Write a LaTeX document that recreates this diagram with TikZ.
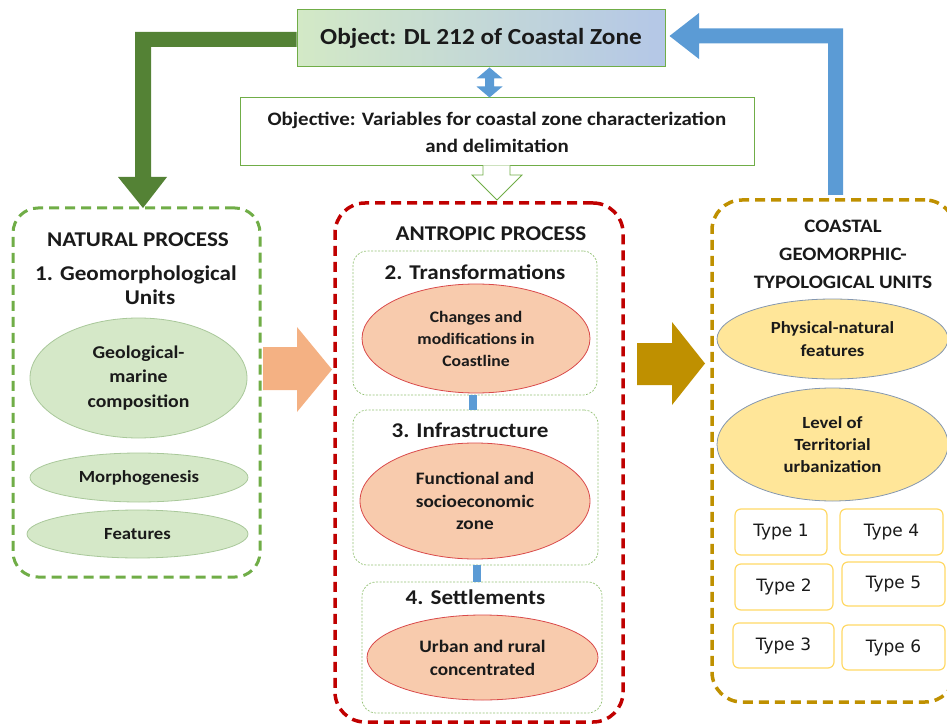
\documentclass[tikz,border=0pt]{standalone}
\usepackage{fontspec}
\setmainfont{Carlito}[FakeStretch=1.1]
\newfontfamily\typefont{DejaVu Sans}
\usetikzlibrary{shapes.geometric,calc}
\definecolor{dgreen}{HTML}{548235}
\definecolor{lgreen}{HTML}{70AD47}
\definecolor{ablue}{HTML}{5B9BD5}
\definecolor{bgreen}{HTML}{D3E9C6}
\definecolor{bblue}{HTML}{B4C7E7}
\definecolor{elgreen}{HTML}{D5E8C8}
\definecolor{elgreenb}{HTML}{A9C89A}
\definecolor{peach}{HTML}{F8CBAD}
\definecolor{peachb}{HTML}{D9494A}
\definecolor{orng}{HTML}{F4B183}
\definecolor{gold}{HTML}{BF9000}
\definecolor{lyel}{HTML}{FFE699}
\definecolor{lyelb}{HTML}{8497B0}
\definecolor{typeb}{HTML}{FFD966}
\definecolor{dred}{HTML}{C00000}
\definecolor{txt}{HTML}{1A1A1A}
\newcommand\fsz[2]{\fontsize{#1pt}{#2pt}\selectfont}
\tikzset{
  every node/.style={text=txt},
  container/.style={draw, line width=3pt, dash pattern=on 10pt off 6pt, rounded corners=25pt},
  innerbox/.style={draw=lgreen!75, line width=0.7pt, dash pattern=on 2pt off 1.5pt, rounded corners=14pt},
  ell/.style={ellipse, inner sep=0pt, align=center},
  greenell/.style={ell, fill=elgreen, draw=elgreenb, line width=0.8pt},
  peachell/.style={ell, fill=peach, draw=peachb, line width=0.8pt},
  yelell/.style={ell, fill=lyel, draw=lyelb, line width=0.8pt},
  typebox/.style={draw=typeb, line width=1.2pt, rounded corners=6pt, fill=white, font=\typefont\fsz{17}{20}},
  heading/.style={align=center, inner sep=0pt},
}
\begin{document}
\begin{tikzpicture}[x=1pt,y=-1pt]
\useasboundingbox (0,0) rectangle (947,727);
\clip (0,0) rectangle (947,727);

% top boxes
\node[draw=lgreen, line width=1pt, left color=bgreen, right color=bblue, minimum width=368pt, minimum height=57pt, font=\bfseries\fsz{23}{27}] (obj) at (481,38.5) {Object: DL 212 of Coastal Zone};
\node[draw=lgreen, line width=1pt, fill=white, minimum width=514pt, minimum height=68pt, align=center, font=\bfseries\fsz{19}{27}] (objv) at (497,132) {Objective: Variables for coastal zone characterization\\and delimitation};

% containers
\node[container, draw=lgreen, minimum width=247pt, minimum height=369pt] (left) at (136.5,392.5) {};
\node[container, draw=dred, line width=3.5pt, rounded corners=30pt, minimum width=288pt, minimum height=519pt] (mid) at (479,462.5) {};
\node[container, draw=gold, line width=3.5pt, rounded corners=30pt, minimum width=243pt, minimum height=502pt] (right) at (833.5,451) {};

% green arrow
\fill[dgreen] ($(obj.west)+(0,-6.5)$) -| (135,177) -- (118,177) -- (143,208) -- (167,177) -- (151,177) |- ($(obj.west)+(0,8.5)$) -- cycle;
% blue arrow
\fill[ablue] ($(obj.east)+(4,-2.5)$) -- (699,13) -- (699,28.5) -- (843,28.5) -- (843,195) -- (828,195) -- (828,43.5) -- (699,43.5) -- (699,59) -- cycle;
% double arrow
\fill[ablue] (489.5,67.5) -- (502.5,78.5) -- (494,78.5) -- (494,86.5) -- (502.5,86.5) -- (489.5,97.5) -- (476.5,86.5) -- (485,86.5) -- (485,78.5) -- (476.5,78.5) -- cycle;
% hollow arrow
\filldraw[fill=white, draw=lgreen, line width=0.8pt] (483,165.5) -- (483,175) -- (472,175) -- (497,200) -- (522,175) -- (510,175) -- (510,165.5);
% orange arrow
\fill[orng] (263,347) -- (297,347) -- (297,327) -- (332,369.5) -- (297,412) -- (297,390) -- (263,390) -- cycle;
% gold arrow
\fill[gold] (637,343) -- (672,343) -- (672,322) -- (705,363.5) -- (672,405) -- (672,385) -- (637,385) -- cycle;

% left content
\node[heading, font=\bfseries\fsz{21}{25}] (natp) at (138,240) {NATURAL PROCESS};
\node[heading, font=\bfseries\fsz{21}{24}] (geo) at (136,285) {1. Geomorphological\\\hspace*{28pt}Units};
\node[greenell, minimum width=217pt, minimum height=120pt, font=\bfseries\fsz{18}{24.5}] (l1) at (138.5,378) {Geological-\\marine\\composition};
\node[greenell, minimum width=218pt, minimum height=49pt, font=\bfseries\fsz{17}{20}] (l2) at (139,477.5) {Morphogenesis};
\node[greenell, minimum width=221pt, minimum height=48pt, font=\bfseries\fsz{17}{20}] (l3) at (137.5,534) {Features};

% middle content
\node[heading, font=\bfseries\fsz{21}{25}] (antp) at (491,234) {ANTROPIC PROCESS};
\node[innerbox, minimum width=244pt, minimum height=144pt] (ib1) at (475,323) {};
\node[innerbox, minimum width=245pt, minimum height=155pt] (ib2) at (475.5,487.5) {};
\node[innerbox, minimum width=240pt, minimum height=131pt] (ib3) at (482,647.5) {};
\draw[ablue, line width=8pt] ($(ib1.south)+(-2,0)$) -- ($(ib1.south)+(-2,15)$);
\draw[ablue, line width=8pt] ($(ib2.south)+(1.5,0)$) -- ($(ib2.south)+(1.5,17)$);
\node[heading, font=\bfseries\fsz{21}{25}] at (475,272) {2. Transformations};
\node[heading, font=\bfseries\fsz{21}{25}] at (470,430) {3. Infrastructure};
\node[heading, font=\bfseries\fsz{21}{25}] at (475.5,597) {4. Settlements};
\node[peachell, minimum width=228pt, minimum height=109pt, font=\bfseries\fsz{16}{22}] (e1) at (476,338.5) {Changes and\\modifications in\\Coastline};
\node[peachell, minimum width=230pt, minimum height=116pt, font=\bfseries\fsz{17.5}{22.5}] (e2) at (475,501) {Functional and\\socioeconomic\\zone};
\node[peachell, minimum width=231pt, minimum height=85pt, font=\bfseries\fsz{17.5}{23}] (e3) at (482.5,657.5) {Urban and rural\\concentrated};

% right content
\node[heading, font=\bfseries\fsz{19}{28}] (cgt) at (843,254) {COASTAL\\GEOMORPHIC-\\TYPOLOGICAL UNITS};
\node[yelell, minimum width=231pt, minimum height=80pt, font=\bfseries\fsz{17}{23}] (r1) at (832.5,339) {Physical-natural\\features};
\node[yelell, minimum width=231pt, minimum height=113pt, font=\bfseries\fsz{17}{22}] (r2) at (832.5,444.5) {Level of\\Territorial\\urbanization};
\node[typebox, minimum width=92pt, minimum height=46pt] (t1) at (781,532) {Type 1};
\node[typebox, minimum width=103pt, minimum height=46pt] (t4) at (891.5,532) {Type 4};
\node[typebox, minimum width=98pt, minimum height=46pt] (t2) at (784,587) {Type 2};
\node[typebox, minimum width=103pt, minimum height=44pt] (t5) at (893.5,584) {Type 5};
\node[typebox, minimum width=101pt, minimum height=45pt] (t3) at (783.5,645.5) {Type 3};
\node[typebox, minimum width=103pt, minimum height=45pt] (t6) at (893.5,647.5) {Type 6};
\end{tikzpicture}
\end{document}
